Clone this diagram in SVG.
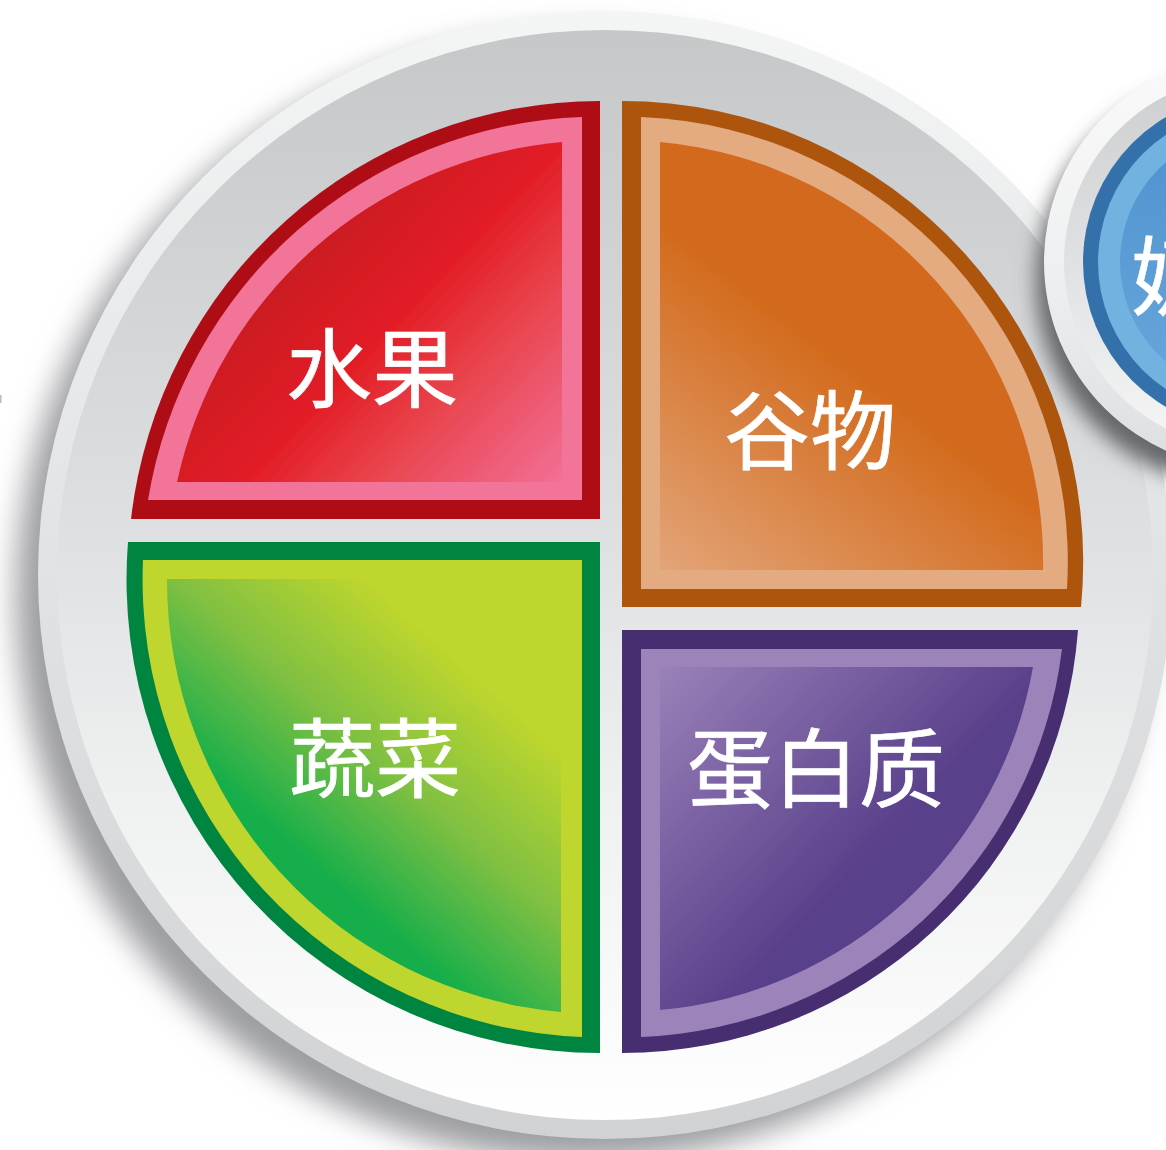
<svg xmlns="http://www.w3.org/2000/svg" width="1166" height="1150" viewBox="0 0 1166 1150">
<style>
text{font-family:"Noto Sans CJK SC","Liberation Sans",sans-serif;font-size:86px;fill:#fff;stroke:#fff;stroke-width:.7px}
.soft{filter:url(#soft)}
</style>
<defs>
<filter id="soft" x="-5%" y="-5%" width="110%" height="110%"><feGaussianBlur stdDeviation="0.6"/></filter>
<filter id="sh" x="-20%" y="-20%" width="140%" height="140%"><feGaussianBlur stdDeviation="15"/></filter>
<filter id="sh2" x="-30%" y="-30%" width="160%" height="160%"><feGaussianBlur stdDeviation="10"/></filter>
<linearGradient id="rim" x1="0" y1="0" x2="0" y2="1"><stop offset="0" stop-color="#f4f5f5"/><stop offset=".5" stop-color="#e0e2e4"/><stop offset="1" stop-color="#d1d2d4"/></linearGradient>
<linearGradient id="dish" x1="0" y1="0" x2="0" y2="1"><stop offset="0" stop-color="#c6c7c9"/><stop offset=".45" stop-color="#dddfe1"/><stop offset=".7" stop-color="#eff0f0"/><stop offset="1" stop-color="#ffffff"/></linearGradient>
<linearGradient id="gFruit" gradientUnits="userSpaceOnUse" x1="280" y1="232" x2="554" y2="490"><stop offset="0" stop-color="#c31b21"/><stop offset=".39" stop-color="#e31e26"/><stop offset=".62" stop-color="#e9434c"/><stop offset="1" stop-color="#f27096"/></linearGradient>
<linearGradient id="gGrain" gradientUnits="userSpaceOnUse" x1="715" y1="257" x2="545" y2="483"><stop offset="0" stop-color="#d2691a"/><stop offset="1" stop-color="#e3a478"/></linearGradient>
<linearGradient id="gVeg" gradientUnits="userSpaceOnUse" x1="403" y1="613" x2="237" y2="801"><stop offset="0" stop-color="#bed62d"/><stop offset=".5" stop-color="#80c042"/><stop offset="1" stop-color="#14ae4b"/></linearGradient>
<linearGradient id="gProt" gradientUnits="userSpaceOnUse" x1="815" y1="920" x2="599" y2="713"><stop offset="0" stop-color="#583f8a"/><stop offset="1" stop-color="#9c84bb"/></linearGradient>
<linearGradient id="gBlue" x1="0" y1="0" x2="0" y2="1"><stop offset="0" stop-color="#4f92cf"/><stop offset="1" stop-color="#68a7db"/></linearGradient>
<linearGradient id="rim2" x1="0" y1="0" x2="0" y2="1"><stop offset="0" stop-color="#fafafa"/><stop offset=".5" stop-color="#eff0f1"/><stop offset="1" stop-color="#dcdee0"/></linearGradient>
<linearGradient id="dish2" x1="0" y1="0" x2="0" y2="1"><stop offset="0" stop-color="#cdced0"/><stop offset=".5" stop-color="#dfe1e3"/><stop offset="1" stop-color="#f6f6f6"/></linearGradient>
</defs>
<rect width="1166" height="1150" fill="#fff"/>
<rect x="0" y="395" width="1.5" height="8" fill="#bbb"/>
<g id="plate">
<ellipse cx="583" cy="597" rx="567" ry="564" fill="#9d9ea2" filter="url(#sh)"/>
<ellipse cx="605" cy="575" rx="567" ry="564" fill="url(#rim)"/>
<ellipse cx="605" cy="575" rx="548" ry="545" fill="url(#dish)"/>
</g>
<g id="fruit">
<g class="soft">
<path d="M600,101V519H131A472,472 0 0 1 600,101Z" fill="#ae1118"/>
<path d="M582,117V500H148A457,457 0 0 1 582,117Z" fill="#f27599"/>
<path d="M562,142V482H177A433,433 0 0 1 562,142Z" fill="url(#gFruit)"/>
<text x="286" y="401">水果</text>
</g>
</g>
<g id="grains">
<g class="soft">
<path d="M622,101V607H1081A461,461 0 0 0 622,101Z" fill="#ad5510"/>
<path d="M641,117V589H1067A445.500,445.500 0 0 0 641,117Z" fill="#e4aa80"/>
<path d="M660,142V570H1043A421.500,421.500 0 0 0 660,142Z" fill="url(#gGrain)"/>
<text x="724" y="463">谷物</text>
</g>
</g>
<g id="vegetables">
<g class="soft">
<path d="M128,542H600V1053A473.500,473.500 0 0 1 128,542Z" fill="#00853f"/>
<path d="M143,560H582V1037A457.500,457.500 0 0 1 143,560Z" fill="#bed62d"/>
<path d="M167,579H561V1012A433.500,433.500 0 0 1 167,579Z" fill="url(#gVeg)"/>
<text x="289" y="791">蔬菜</text>
</g>
</g>
<g id="protein">
<g class="soft">
<path d="M622,630H1078A457,457 0 0 1 622,1053Z" fill="#462f6f"/>
<path d="M641,649H1062A442,442 0 0 1 641,1037Z" fill="#9c84bb"/>
<path d="M660,667H1033A416.500,416.500 0 0 1 660,1010Z" fill="url(#gProt)"/>
<text x="687" y="801">蛋白质</text>
</g>
</g>
<g id="dairy">
<circle cx="1241" cy="282" r="205" fill="#66676b" filter="url(#sh2)"/>
<circle cx="1251" cy="262" r="207" fill="url(#rim2)"/>
<circle cx="1251" cy="262" r="187" fill="url(#dish2)"/>
<circle cx="1251" cy="262" r="168" fill="#3471ab"/>
<circle cx="1251" cy="262" r="153" fill="#72b2e1"/>
<circle cx="1251" cy="262" r="131" fill="url(#gBlue)"/>
<text class="soft" x="1131" y="309">奶</text>
</g>
</svg>
